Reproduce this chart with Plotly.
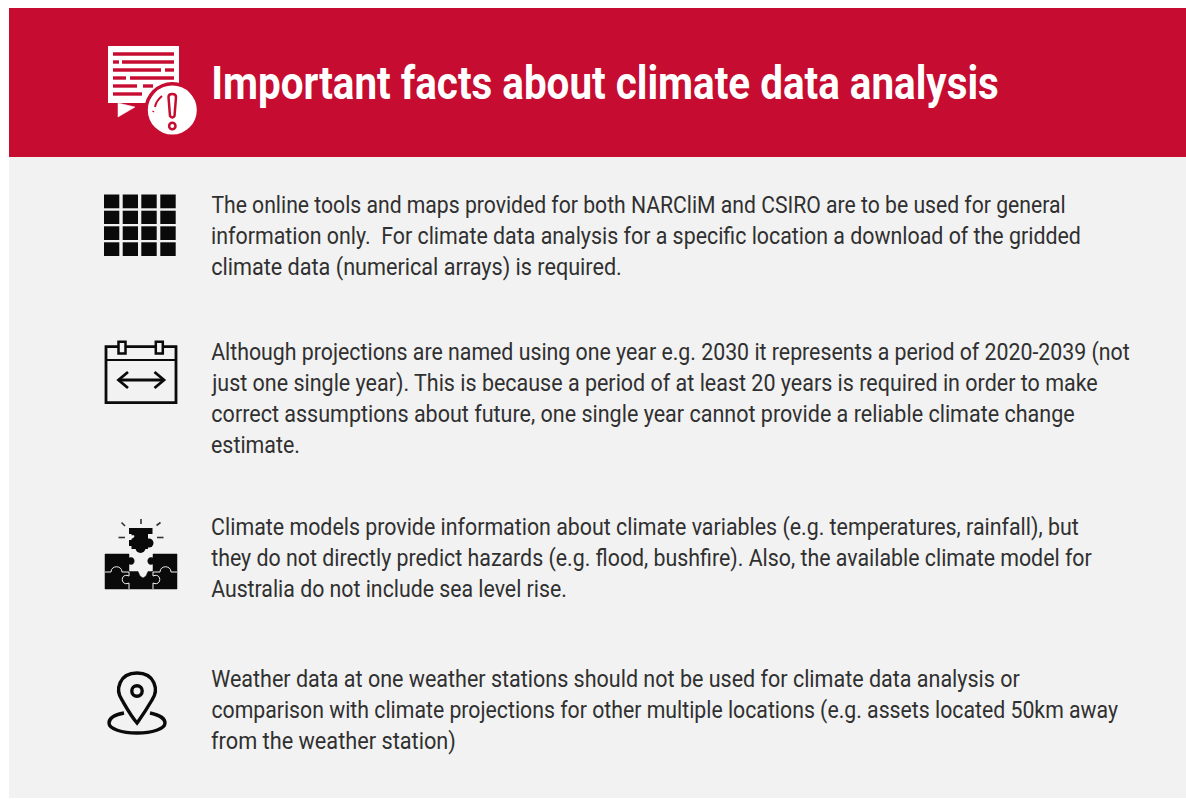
import json
import plotly.graph_objects as go

TITLE = "Important facts about climate data analysis"
BLOCK_1 = ["The online tools and maps provided for both NARCliM and CSIRO are to be used for general",
           "information only.  For climate data analysis for a specific location a download of the gridded",
           "climate data (numerical arrays) is required."]
BLOCK_2 = ["Although projections are named using one year e.g. 2030 it represents a period of 2020-2039 (not",
           "just one single year). This is because a period of at least 20 years is required in order to make",
           "correct assumptions about future, one single year cannot provide a reliable climate change",
           "estimate."]
BLOCK_3 = ["Climate models provide information about climate variables (e.g. temperatures, rainfall), but",
           "they do not directly predict hazards (e.g. flood, bushfire). Also, the available climate model for",
           "Australia do not include sea level rise."]
BLOCK_4 = ["Weather data at one weather stations should not be used for climate data analysis or",
           "comparison with climate projections for other multiple locations (e.g. assets located 50km away",
           "from the weather station)"]
BLOCKS = [(BLOCK_1, 205), (BLOCK_2, 352), (BLOCK_3, 527), (BLOCK_4, 679)]
# right edge of every text line (title first)
LINE_ENDS = [999, 1066, 1081, 622, 1130, 1098, 1075, 300, 1079, 1092, 567, 1020, 1119, 456]

RED = "#C60C30"
GREY = "#F2F2F2"
INK = "#0A0A0A"
LINE_H = 30.9
W, H = 1186, 799
TEXT_X = 211

shapes, ann = [], []


def rect(x0, y0, x1, y1, fill, line=None, lw=0):
    shapes.append(dict(type="rect", x0=x0, y0=y0, x1=x1, y1=y1, fillcolor=fill,
                       line=dict(color=line or fill, width=lw)))


def circ(cx, cy, rx, ry=None, fill="rgba(0,0,0,0)", line=None, lw=0):
    ry = rx if ry is None else ry
    shapes.append(dict(type="circle", x0=cx - rx, y0=cy - ry, x1=cx + rx, y1=cy + ry, fillcolor=fill,
                       line=dict(color=line or fill, width=lw)))


def path(d, fill="rgba(0,0,0,0)", line=INK, lw=2.5):
    shapes.append(dict(type="path", path=d, fillcolor=fill, line=dict(color=line, width=lw)))


# panels
rect(9, 8, W, 157, RED)
rect(9, 157, W, H - 1, GREY)

# note + alert icon
rect(108, 46, 179, 103, "white")
path("M118,103 L118,117 L135,107 Z", "white", "white", 0.5)
for y, segs in [(54, [(113, 174)]), (62, [(113, 119), (122, 174)]), (70, [(113, 161), (165, 174)]),
                (78, [(113, 126), (130, 174)]), (86, [(113, 137), (143, 153)]), (94, [(113, 142)])]:
    for a, b in segs:
        rect(a, y - 1.7, b, y + 1.7, RED)
circ(172.3, 110, 28, fill=RED)
circ(172.3, 110, 24.5, fill="white")
path("M168.5,97 Q168.5,94 172.3,94 Q176,94 176,97 L174.5,116 Q172.3,119 170,116 Z", "white", RED, 2.5)
circ(172.3, 126, 3.2, fill="white", line=RED, lw=2.5)
path("M153,112 L153.5,111", line=RED, lw=2)
path("M155,107 Q156,101 162,96", line=RED, lw=2)

# grid icon
for x0, x1 in [(104, 119.3), (122.7, 138), (141.3, 156.7), (160.3, 175.7)]:
    for y0, y1 in [(194.5, 208.3), (210.7, 224), (226.3, 240), (242.3, 256)]:
        rect(x0, y0, x1, y1, INK)

# calendar icon
rect(106, 346.7, 176, 402.7, "rgba(0,0,0,0)", INK, 2.8)
path("M106,360 L176,360", lw=2.2)
for cx in (122, 159.3):
    shapes.append(dict(type="rect", x0=cx - 3.5, y0=341.7, x1=cx + 3.5, y1=353.5, fillcolor=GREY,
                       line=dict(color=INK, width=2.5)))
path("M118.5,380 L164,380", lw=2.8)
path("M128,372 L118.5,380 L128,388", lw=2.8)
path("M154.5,372 L164,380 L154.5,388", lw=2.8)

# puzzle icon: rays
for d in ["M141,519 L141,524", "M121.5,522.5 L125,526", "M160.5,522.5 L156.5,525.5",
          "M118.5,537.5 L125,537.5", "M157,537.5 L163.5,537.5"]:
    path(d, lw=1.6, line="#333333")
# puzzle icon: falling piece
rect(129, 528, 152.5, 534, INK)
rect(131.5, 533, 148, 549, INK)
rect(129, 540, 137, 546, INK)
circ(149, 543, 4.5, fill=INK)
circ(140.5, 548, 5, fill=INK)
path("M129,535.5 L134,535.5 Q135,538 129,539", GREY, GREY, 0.5)
# puzzle icon: assembled pieces
path("M105,554 L129,554 L129,558 C136,555 136,567 129,564 L129,571.5 L138,571.5 L140,576 L143,578 L146,576 "
     "L148,571.5 L153,571.5 L153,564 C146,567 146,555 153,558 L153,554 L177,554 L177,589 L105,589 Z",
     INK, INK, 0.5)
for d in ["M105,572 L111,572 C111,565 122,565 122,572 L129,572",
          "M177,572 L171,572 C171,565 160,565 160,572 L153,572",
          "M129,572 L129,576 C120,572 120,587 129,583 L129,589",
          "M153,572 L153,576 C162,572 162,587 153,583 L153,589"]:
    path(d, line=GREY, lw=1)

# pin icon
path("M137,723 C131,716 130,714 122,700 C115,690 119,673 137,673 C155,673 159,690 152,700 "
     "C145,712 142,716 137,723 Z", lw=3.4)
circ(137, 691, 5.2, line=INK, lw=3.4)
path("M124,713 C113,715 109,719 109,723 C109,729 122,733 137,733 C152,733 165,729 165,723 "
     "C165,719 160,715 150,713", lw=3.4)

# text
ann.append(dict(x=TEXT_X, y=83, xshift=-2, text="<b>%s</b>" % TITLE, xanchor="left", yanchor="middle",
                showarrow=False, font=dict(family="Roboto", size=46, color="white")))
for lines, top in BLOCKS:
    for i, s in enumerate(lines):
        ann.append(dict(x=TEXT_X, y=top + i * LINE_H, xshift=-2, text=s, xanchor="left", yanchor="middle",
                        showarrow=False, font=dict(family="Roboto", size=24, color="#303030")))

# drop the page margin, then fit every line to its measured width, keeping it real text
fit = """
document.documentElement.style.margin = '0';
document.body.style.margin = '0';
document.body.style.padding = '0';
var ends = %s, x0 = %d;
document.querySelectorAll('.annotation-text-g text, .annotation text').forEach(function (t, i) {
  if (i < ends.length) {
    var target = ends[i] - x0, box = t.getBBox();
    var cx = box.x, s = target / box.width;
    t.setAttribute('transform', (t.getAttribute('transform') || '') +
      ' translate(' + cx + ',0) scale(' + s + ',1) translate(' + (-cx) + ',0)');
  }
});
""" % (json.dumps(LINE_ENDS), TEXT_X)

fig = go.Figure()
fig.update_layout(width=W, height=H, margin=dict(l=0, r=0, t=0, b=0),
                  paper_bgcolor="white", plot_bgcolor="white",
                  showlegend=False, shapes=shapes, annotations=ann,
                  xaxis=dict(range=[0, W], visible=False, fixedrange=True),
                  yaxis=dict(range=[H, 0], visible=False, fixedrange=True))
fig.write_html("out.html", config=dict(displayModeBar=False), post_script=fit)
